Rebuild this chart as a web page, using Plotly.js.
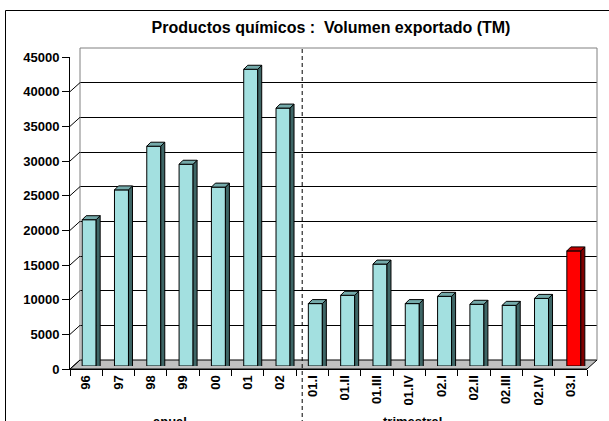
<!DOCTYPE html>
<html>
<head>
<meta charset="utf-8">
<script src="https://cdn.plot.ly/plotly-3.0.1.min.js"></script>
<style>
  html, body { margin: 0; padding: 0; background: #ffffff; overflow: hidden; }
  #chart { width: 609px; height: 421px; }
</style>
</head>
<body>
<div id="chart"></div>
<script>
// ---- data ----
const categories = ['96','97','98','99','00','01','02','01.I','01.II','01.III','01.IV','02.I','02.II','02.III','02.IV','03.I'];
const volumes = [21100, 25400, 31700, 29100, 25800, 42800, 37200, 9000, 10200, 14700, 9000, 10050, 8900, 8750, 9750, 16600];
const highlighted = ['03.I'];
const yTicks = [0, 5000, 10000, 15000, 20000, 25000, 30000, 35000, 40000, 45000];
const groupLabels = ['anual', 'trimestral'];
const titleText = 'Productos químicos :\u00a0 Volumen exportado (TM)';

// ---- layout geometry / styles ----
const W = 609, H = 421;
const M = {l: 70, r: 12, t: 48, b: 52};
const PW = W - M.l - M.r, PH = H - M.t - M.b;   // 527 x 321
const DX = 10, DY = 9;      // 3D depth of the walls
const BX = 3, BY = 3;       // offset of the bar fronts into the depth
const BD = 4;               // depth of a bar
const HW = 7;               // half width of a bar front, px
const catPx = (PW - DX) / categories.length;
const FONT = 'Liberation Sans, Arial, sans-serif';

const faceCol = c => highlighted.includes(c) ? '#FF0000' : '#A3E0E0';
const topCol  = c => highlighted.includes(c) ? '#C00000' : '#74AAAA';
const sideCol = c => highlighted.includes(c) ? '#800000' : '#3E6666';

const traces = [
  // back wall subplot (gridlines)
  {type: 'scatter', x: [], y: [], xaxis: 'x', yaxis: 'y', hoverinfo: 'skip', showlegend: false},
  // front axes (ticks / labels)
  {type: 'scatter', mode: 'none', x: categories, y: volumes, xaxis: 'x2', yaxis: 'y2', hoverinfo: 'skip', showlegend: false},
  // bar fronts
  {type: 'bar', x: categories, y: volumes, xaxis: 'x3', yaxis: 'y3',
   width: (2 * HW) / catPx,
   marker: {color: categories.map(faceCol), line: {color: '#000000', width: 1}},
   hoverinfo: 'x+y', showlegend: false}
];

const shapes = [];
// floor
const fx1 = (PW - DX) / PW, dxf = DX / PW, dyf = DY / PH;
shapes.push({type: 'path', xref: 'paper', yref: 'paper', layer: 'below',
  path: `M0,0 L${fx1},0 L1,${dyf} L${dxf},${dyf} Z`,
  fillcolor: '#C0C0C0', line: {color: '#000000', width: 1}});
// wall frame (left, top, right edges)
shapes.push({type: 'path', xref: 'paper', yref: 'paper', layer: 'above',
  path: `M${dxf},${dyf} L${dxf},1 L1,1 L1,${dyf}`,
  line: {color: '#808080', width: 1}});
// left-wall diagonals at each tick
yTicks.forEach((v, i) => {
  shapes.push({type: 'line', xref: 'paper', yref: 'y2', ysizemode: 'pixel', yanchor: v,
    x0: 0, x1: dxf, y0: 0, y1: DY, layer: 'above',
    line: {color: i === yTicks.length - 1 ? '#808080' : '#000000', width: 1}});
});
// bar tops and sides
categories.forEach((c, i) => {
  shapes.push({type: 'path', xref: 'x3', yref: 'y3', xsizemode: 'pixel', ysizemode: 'pixel',
    xanchor: i, yanchor: volumes[i], layer: 'above',
    path: `M${HW},0 L${HW + BD},${BD} L${HW + BD},-600 L${HW},-600 Z`,
    fillcolor: sideCol(c), line: {color: '#000000', width: 1}});
  shapes.push({type: 'path', xref: 'x3', yref: 'y3', xsizemode: 'pixel', ysizemode: 'pixel',
    xanchor: i, yanchor: volumes[i], layer: 'above',
    path: `M${-HW},0 L${HW},0 L${HW + BD},${BD} L${-HW + BD},${BD} Z`,
    fillcolor: topCol(c), line: {color: '#000000', width: 1}});
});
// dashed divider between annual and quarterly groups
shapes.push({type: 'line', xref: 'x2', yref: 'paper', xsizemode: 'pixel', xanchor: 6.5,
  x0: 6, x1: 6, y0: (H - M.b - H - 10) / PH, y1: 1, layer: 'above',
  line: {color: '#000000', width: 1, dash: '4px,3px'}});
// outer chart border (left and top edges visible; the rest lies outside the image)
shapes.push({type: 'path', xref: 'paper', yref: 'paper', layer: 'above',
  path: `M${(5.5 - M.l) / PW},${(H - M.b - H - 20) / PH} L${(5.5 - M.l) / PW},${(H - M.b - 10.5) / PH} L${(W + 40 - M.l) / PW},${(H - M.b - 10.5) / PH}`,
  line: {color: '#000000', width: 1}});

const tickFont = {family: FONT, size: 13, color: '#000000', weight: 'bold'};

const layout = {
  width: W, height: H,
  margin: M,
  paper_bgcolor: '#ffffff',
  plot_bgcolor: 'rgba(0,0,0,0)',
  showlegend: false,
  bargap: 0,
  title: {text: titleText, font: {family: FONT, size: 16, color: '#000000', weight: 'bold'},
          xref: 'container', yref: 'container', x: 331 / W, xanchor: 'center',
          y: 1 - 27 / H, yanchor: 'middle'},
  // back wall
  xaxis: {domain: [DX / PW, 1], range: [0, 1], anchor: 'y', visible: false, fixedrange: true},
  yaxis: {domain: [DY / PH, 1], range: [0, 45000], anchor: 'x', showgrid: true, gridcolor: '#000000',
          gridwidth: 1, tickvals: yTicks, zeroline: false, showticklabels: false, ticks: '',
          showline: false, fixedrange: true},
  // front axes
  xaxis2: {domain: [0, (PW - DX) / PW], anchor: 'y2', type: 'category', categoryorder: 'array',
           categoryarray: categories, range: [-0.5, categories.length - 0.5],
           showgrid: false, zeroline: false, showline: true, linecolor: '#000000', linewidth: 1,
           ticks: 'outside', tickson: 'boundaries', ticklen: 6, tickcolor: '#000000', tickwidth: 1,
           tickangle: -90, tickfont: tickFont, fixedrange: true},
  yaxis2: {domain: [0, (PH - DY) / PH], anchor: 'x2', range: [0, 45000], tickvals: yTicks,
           tickformat: 'd',
           showgrid: false, zeroline: false, showline: true, linecolor: '#000000', linewidth: 1,
           ticks: 'outside', ticklen: 7, tickcolor: '#000000', tickwidth: 1,
           tickfont: tickFont, fixedrange: true},
  // bars
  xaxis3: {domain: [BX / PW, (PW - DX + BX) / PW], anchor: 'y3', type: 'category', categoryorder: 'array',
           categoryarray: categories, range: [-0.5, categories.length - 0.5], visible: false, fixedrange: true},
  yaxis3: {domain: [BY / PH, (PH - DY + BY) / PH], anchor: 'x3', range: [0, 45000], visible: false, fixedrange: true},
  shapes: shapes,
  annotations: [
    {text: groupLabels[0], xref: 'paper', yref: 'paper', x: (170 - M.l) / PW, y: (H - M.b - 412) / PH,
     xanchor: 'center', yanchor: 'top', showarrow: false, font: tickFont},
    {text: groupLabels[1], xref: 'paper', yref: 'paper', x: (412 - M.l) / PW, y: (H - M.b - 412) / PH,
     xanchor: 'center', yanchor: 'top', showarrow: false, font: tickFont}
  ]
};

Plotly.newPlot('chart', traces, layout, {displayModeBar: false, staticPlot: true});
</script>
</body>
</html>
